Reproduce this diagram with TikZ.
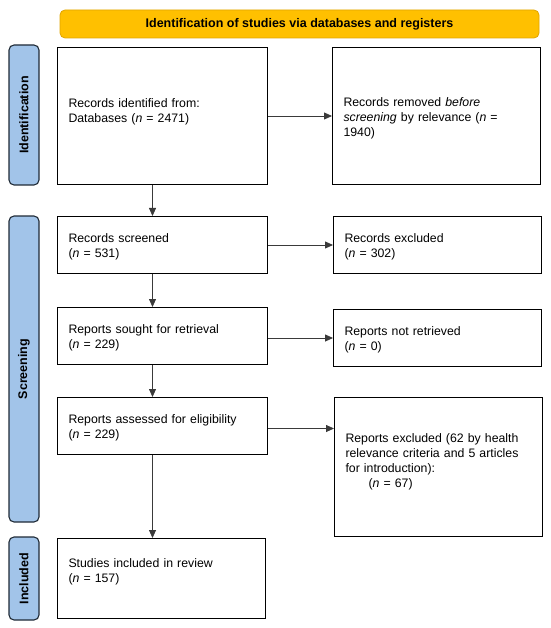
\documentclass[tikz,border=0pt]{standalone}
\usepackage{fontspec}
\setmainfont{Liberation Sans}
\usetikzlibrary{arrows.meta}
\definecolor{hdrfill}{HTML}{FFC000}
\definecolor{hdrline}{HTML}{E0A400}
\definecolor{sidefill}{HTML}{A2C4E9}
\definecolor{sideline}{HTML}{1F2A36}
\definecolor{arrline}{HTML}{3A3A3A}
\newcommand\prismafont{\fontsize{12.3}{15}\selectfont}
\newcommand\prismabold{\fontsize{12.5}{15}\selectfont\bfseries}
\tikzset{
  box/.style={draw=black, line width=1pt, fill=white, anchor=north west,
    inner sep=0pt, align=left, font=\prismafont, text height=9pt},
  lbox/.style={box, minimum width=210pt, text width=188pt},
  rbox/.style={box, minimum width=208pt, text width=186pt},
  side/.style={draw=sideline, line width=1.1pt, fill=sidefill, rounded corners=5pt,
    rotate=90, minimum height=30pt, inner sep=0pt, font=\prismabold},
  hdr/.style={draw=hdrline, line width=0.8pt, fill=hdrfill, rounded corners=5pt,
    minimum width=479pt, minimum height=28pt, inner sep=0pt, font=\prismabold},
  arr/.style={draw=arrline, line width=0.8pt, -{Triangle[length=8pt,width=7pt]}}
}
\begin{document}
\begin{tikzpicture}[x=1pt,y=-1pt]
\useasboundingbox (0,0) rectangle (550,628);

% header
\node[hdr] (hdr) at (299.5,24) {Identification of studies via databases and registers};

% side bars
\node[side, minimum width=140pt] (sIdent) at (24,115) {Identification};
\node[side, minimum width=306pt] (sScreen) at (24,369) {Screening};
\node[side, minimum width=83pt] (sIncl) at (24,578.5) {Included};

% left column
\node[lbox, minimum height=137pt, text depth=26pt] (ident) at (57,47)
  {Records identified from:\\Databases (\textit{n} = 2471)};
\node[lbox, minimum height=57pt, text depth=14pt] (screen) at (57,216)
  {Records screened\\(\textit{n} = 531)};
\node[lbox, minimum height=57pt, text depth=14pt] (sought) at (57,307)
  {Reports sought for retrieval\\(\textit{n} = 229)};
\node[lbox, minimum height=57pt, text depth=14pt] (assess) at (57,397)
  {Reports assessed for eligibility\\(\textit{n} = 229)};
\node[box, minimum width=208pt, text width=186pt, minimum height=80pt, text depth=31pt] (incl) at (57,538)
  {Studies included in review\\(\textit{n} = 157)};

% right column
\node[rbox, minimum height=137pt, text depth=28pt] (removed) at (332,47)
  {Records removed \textit{before}\\\textit{screening} by relevance (\textit{n} =\\1940)};
\node[rbox, minimum height=57pt, text depth=14pt] (excl) at (333,216)
  {Records excluded\\(\textit{n} = 302)};
\node[rbox, minimum height=57pt, text depth=14pt] (notret) at (333,309)
  {Reports not retrieved\\(\textit{n} = 0)};
\node[rbox, minimum height=139pt, text depth=58.6pt] (rexcl) at (334,397)
  {Reports excluded (62 by health\\relevance criteria and 5 articles\\for introduction):\\\hspace*{23pt}(\textit{n} = 67)};

% horizontal arrows
\draw[arr] (ident.east) -- (removed.west);
\draw[arr] (screen.east) -- (excl.west);
\draw[arr] (sought.east |- notret.west) -- (notret.west);
\coordinate (assessout) at ([yshift=-2.5pt]assess.east);
\draw[arr] (assessout) -- (assessout -| rexcl.west);

% vertical arrows
\coordinate (d1) at ([xshift=-10pt]ident.south);
\draw[arr] (d1) -- (d1 |- screen.north);
\coordinate (d2) at ([xshift=-10pt]screen.south);
\draw[arr] (d2) -- (d2 |- sought.north);
\coordinate (d3) at ([xshift=-10pt]sought.south);
\draw[arr] (d3) -- (d3 |- assess.north);
\coordinate (d4) at ([xshift=-10pt]assess.south);
\draw[arr] (d4) -- (d4 |- incl.north);
\end{tikzpicture}
\end{document}
